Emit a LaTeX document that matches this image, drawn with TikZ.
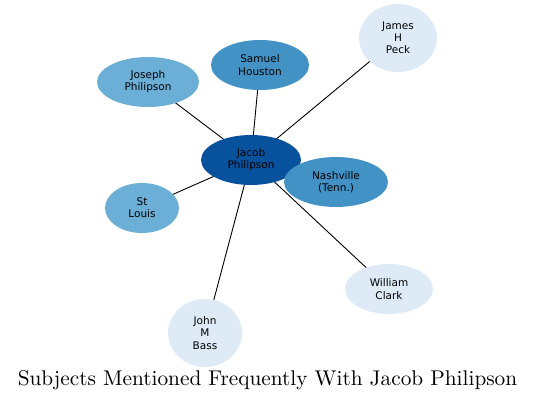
\documentclass[tikz,border=0pt]{standalone}
\usepackage{fontspec}
\newfontfamily\labelfont{DejaVu Sans}
\newfontfamily\titlefont{lmroman10-regular.otf}
\usetikzlibrary{shapes.geometric,backgrounds}
\definecolor{blueA}{RGB}{8,81,156}
\definecolor{blueB}{RGB}{66,146,198}
\definecolor{blueC}{RGB}{107,174,214}
\definecolor{blueD}{RGB}{222,235,247}

\begin{document}
\begin{tikzpicture}[x=1pt,y=-1pt,
    person/.style={ellipse, inner sep=0pt, align=center, text=black,
        font=\labelfont\fontsize{10.5}{12.2}\selectfont},
    link/.style={line width=0.9pt, black}]
    \useasboundingbox (0,0) rectangle (536,403);

    % Draw subject nodes.
    \node[person, fill=blueA, minimum width=100pt, minimum height=50pt] (jacob) at (251,160) {Jacob\\Philipson};
    \node[person, fill=blueB, minimum width=104pt, minimum height=50pt] (nashville) at (336,182) {Nashville\\(Tenn.)};
    \node[person, fill=blueB, minimum width=98pt, minimum height=50pt] (samuel) at (260,65) {Samuel\\Houston};
    \node[person, fill=blueC, minimum width=102pt, minimum height=50pt] (joseph) at (148,82) {Joseph\\Philipson};
    \node[person, fill=blueC, minimum width=74pt, minimum height=50pt] (stlouis) at (142,208) {St\\Louis};
    \node[person, fill=blueD, minimum width=78pt, minimum height=68pt] (james) at (398,38) {James\\H\\Peck};
    \node[person, fill=blueD, minimum width=88pt, minimum height=50pt] (william) at (389,289) {William\\Clark};
    \node[person, fill=blueD, minimum width=74pt, minimum height=68pt] (john) at (205,333) {John\\M\\Bass};

    % Draw links behind the nodes.
    \begin{scope}[on background layer]
        \foreach \n in {nashville,samuel,joseph,stlouis,james,william,john}
            \draw[link] (jacob.center) -- (\n.center);
    \end{scope}

    % Draw title.
    \node[font=\titlefont\fontsize{21.3}{25}\selectfont, anchor=base, inner sep=0pt] (title) at (267.5,385.7) {Subjects Mentioned Frequently With Jacob Philipson};
\end{tikzpicture}
\end{document}
